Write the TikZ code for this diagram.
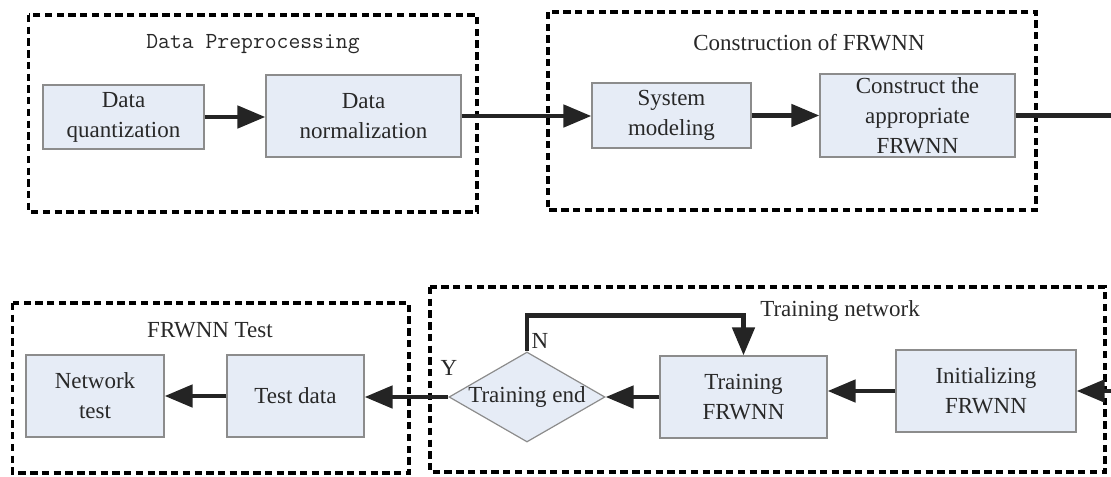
\documentclass[tikz,border=0pt]{standalone}
\usepackage{fontspec}
\setmainfont{Liberation Serif}
\usetikzlibrary{arrows.meta,shapes.geometric}
\definecolor{boxfill}{RGB}{230,236,246}
\definecolor{boxline}{RGB}{140,140,140}
\definecolor{ink}{RGB}{36,36,36}
\definecolor{txt}{RGB}{40,40,40}

\begin{document}
\begin{tikzpicture}[x=0.75pt,y=-0.75pt,
  every node/.style={font=\fontsize{17.25}{22.5}\selectfont, text=txt},
  stage/.style={draw=boxline, line width=0.9pt, fill=boxfill, inner sep=0pt, align=center},
  decision/.style={diamond, draw=boxline, line width=0.9pt, fill=boxfill, inner sep=0pt,
                   minimum width=117pt, minimum height=67.5pt},
  group/.style={draw=black, line width=2.8pt, dash pattern=on 5.5pt off 3.3pt},
  flow/.style={draw=ink, line width=3.6pt, -{Triangle[length=21pt,width=16.5pt]}},
  link/.style={draw=ink, line width=3.6pt},
]
\useasboundingbox (0,0) rectangle (1111,476);

% dashed stage groups
\draw[group] (28.6,15) rectangle (477,212);
\draw[group] (548,12) rectangle (1036,210);
\draw[group] (12.5,303) rectangle (409,473);
\draw[group] (430,287) rectangle (1105,472);

% group titles
\node (tPre)   at (253,44)  {\ttfamily Data Preprocessing};
\node (tCons)  at (809,43)  {Construction of FRWNN};
\node (tTest)  at (210,330) {FRWNN Test};
\node (tTrain) at (840,311) {Training network};

% upper row
\node[stage, minimum width=120.75pt, minimum height=48pt]   (quant) at (123.5,117) {Data\\quantization};
\node[stage, minimum width=146.25pt, minimum height=61.5pt] (norm)  at (363.5,116) {Data\\normalization};
\node[stage, minimum width=119.25pt, minimum height=48.75pt](sysm)  at (671.5,115.5) {System\\modeling};
\node[stage, minimum width=146.25pt, minimum height=62.25pt](cons)  at (917.5,115.5) {Construct the\\appropriate\\FRWNN};

% lower row
\node[stage, minimum width=103.5pt, minimum height=61.5pt]  (nett)  at (95,396)    {Network\\test};
\node[stage, minimum width=102.75pt, minimum height=61.5pt] (testd) at (295.5,396) {Test data};
\node[decision] (dec) at (527,397) {};
\node (decT) at (dec.center) {Training end};
\node[stage, minimum width=125.25pt, minimum height=61.5pt] (train) at (743.5,397) {Training\\FRWNN};
\node[stage, minimum width=135pt, minimum height=61.5pt]    (init)  at (986,391)   {Initializing\\FRWNN};

% free ends at the right border
\coordinate (exitR)  at (1111,115.5);
\coordinate (entryR) at (1111,391);

% connectors
\draw[flow] (quant.east) -- (norm.west |- quant.east);
\draw[flow] (norm.east) -- (sysm.west |- norm.east);
\draw[flow] (sysm.east) -- (cons.west |- sysm.east);
\draw[link] (cons.east) -- (exitR);
\draw[flow] (entryR) -- (init.east);
\draw[flow] (init.west) -- (train.east |- init.west);
\draw[flow] (train.west) -- (dec.east);
\draw[flow] (dec.west) -- (testd.east |- dec.west);
\draw[flow] (testd.west) -- (nett.east |- testd.west);
\draw[flow] (dec.north) -- ++(0,-36) -| (train.north);

% decision labels
\node (lblN) at (540,341) {N};
\node (lblY) at (449,368) {Y};
\end{tikzpicture}
\end{document}
